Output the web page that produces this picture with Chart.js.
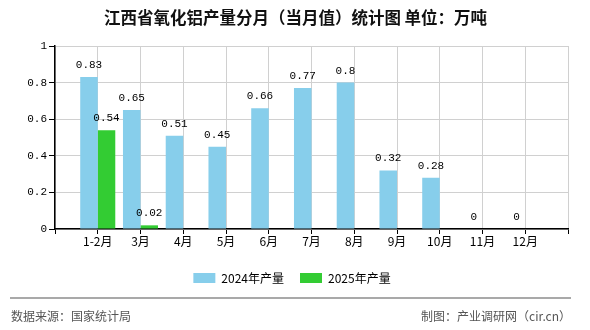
<!DOCTYPE html>
<html>
<head>
<meta charset="utf-8">
<script src="https://cdn.jsdelivr.net/npm/chart.js@4.4.1/dist/chart.umd.min.js"></script>
<style>
  html, body { margin: 0; padding: 0; background: #fff; }
  #wrap { width: 590px; height: 330px; position: relative; }
</style>
</head>
<body>
<div id="wrap"><canvas id="chart"></canvas></div>
<script>
const months = ['1-2月', '3月', '4月', '5月', '6月', '7月', '8月', '9月', '10月', '11月', '12月'];
const output2024 = [0.83, 0.65, 0.51, 0.45, 0.66, 0.77, 0.8, 0.32, 0.28, 0, 0];
const output2025 = [0.54, 0.02, null, null, null, null, null, null, null, null, null];
const seriesNames = ['2024年产量', '2025年产量'];
const yTicks = [0, 0.2, 0.4, 0.6, 0.8, 1];
const titleText = '江西省氧化铝产量分月（当月值）统计图 单位：万吨';

const MONO = "'Liberation Mono', 'Noto Sans CJK SC', monospace";
const CJK = "'Noto Sans CJK SC', sans-serif";

// empty slot on each side so the categories sit one step in from the axis ends
const labels = [''].concat(months, ['']);
const pad = arr => [null].concat(arr, [null]);

const valueLabels = {
  id: 'valueLabels',
  afterDatasetsDraw(chart) {
    const ctx = chart.ctx;
    ctx.save();
    ctx.font = '11px ' + MONO;
    ctx.fillStyle = '#000';
    ctx.textAlign = 'center';
    ctx.textBaseline = 'middle';
    chart.data.datasets.forEach((ds, i) => {
      chart.getDatasetMeta(i).data.forEach((bar, j) => {
        const v = ds.data[j];
        if (v === null || v === undefined) return;
        ctx.fillText(String(v), bar.x, bar.y - 12);
      });
    });
    ctx.restore();
  }
};

// title centred on the whole canvas, source line and credit at the bottom
const frame = {
  id: 'frame',
  afterLayout(chart) {
    // legend is centred on the full width in the original, not the padded box
    chart.legend.left += 8;
    chart.legend.right += 8;
  },
  afterDraw(chart) {
    const ctx = chart.ctx;
    ctx.save();
    ctx.fillStyle = '#111';
    ctx.font = 'bold 16.5px ' + CJK;
    ctx.textAlign = 'center';
    ctx.textBaseline = 'middle';
    ctx.fillText(titleText, 295.5, 18);

    ctx.strokeStyle = '#8c8c8c';
    ctx.lineWidth = 1.5;
    ctx.beginPath();
    ctx.moveTo(10, 298);
    ctx.lineTo(571, 298);
    ctx.stroke();
    ctx.fillStyle = '#555';
    ctx.font = '12px ' + CJK;
    ctx.textAlign = 'left';
    ctx.fillText('数据来源：国家统计局', 11, 316);
    ctx.textAlign = 'right';
    ctx.fillText('制图：产业调研网（cir.cn）', 571, 316);
    ctx.restore();
  }
};

new Chart(document.getElementById('chart'), {
  type: 'bar',
  data: {
    labels,
    datasets: [
      { label: seriesNames[0], data: pad(output2024), backgroundColor: '#87ceeb' },
      { label: seriesNames[1], data: pad(output2025), backgroundColor: '#33cc33' }
    ]
  },
  options: {
    responsive: true,
    maintainAspectRatio: false,
    animation: false,
    datasets: { bar: { barPercentage: 1, categoryPercentage: 0.82 } },
    layout: { padding: { left: 0, right: 22, top: 46, bottom: 36 } },
    plugins: {
      title: { display: false },
      legend: {
        position: 'bottom',
        labels: {
          boxWidth: 22,
          boxHeight: 10,
          padding: 16,
          color: '#000',
          font: { family: CJK, size: 12 }
        }
      },
      tooltip: { enabled: false }
    },
    scales: {
      x: {
        offset: false,
        grid: { color: '#d0d0d0', tickColor: '#000', tickLength: 5, offset: false },
        border: { color: '#000', width: 1.5 },
        ticks: { color: '#000', font: { family: CJK, size: 12 }, autoSkip: false, maxRotation: 0, padding: 0 },
        afterFit(scale) { scale.height = 27; }
      },
      y: {
        min: 0,
        max: 1,
        afterBuildTicks(scale) { scale.ticks = yTicks.map(v => ({ value: v })); },
        grid: { color: '#d0d0d0', tickColor: '#000', tickLength: 6 },
        border: { color: '#000', width: 1.5 },
        ticks: {
          color: '#000',
          font: { family: MONO, size: 11 },
          padding: 2,
          callback: v => String(Math.round(v * 10) / 10)
        },
        afterFit(scale) { scale.width = 55; }
      }
    }
  },
  plugins: [valueLabels, frame]
});
</script>
</body>
</html>
